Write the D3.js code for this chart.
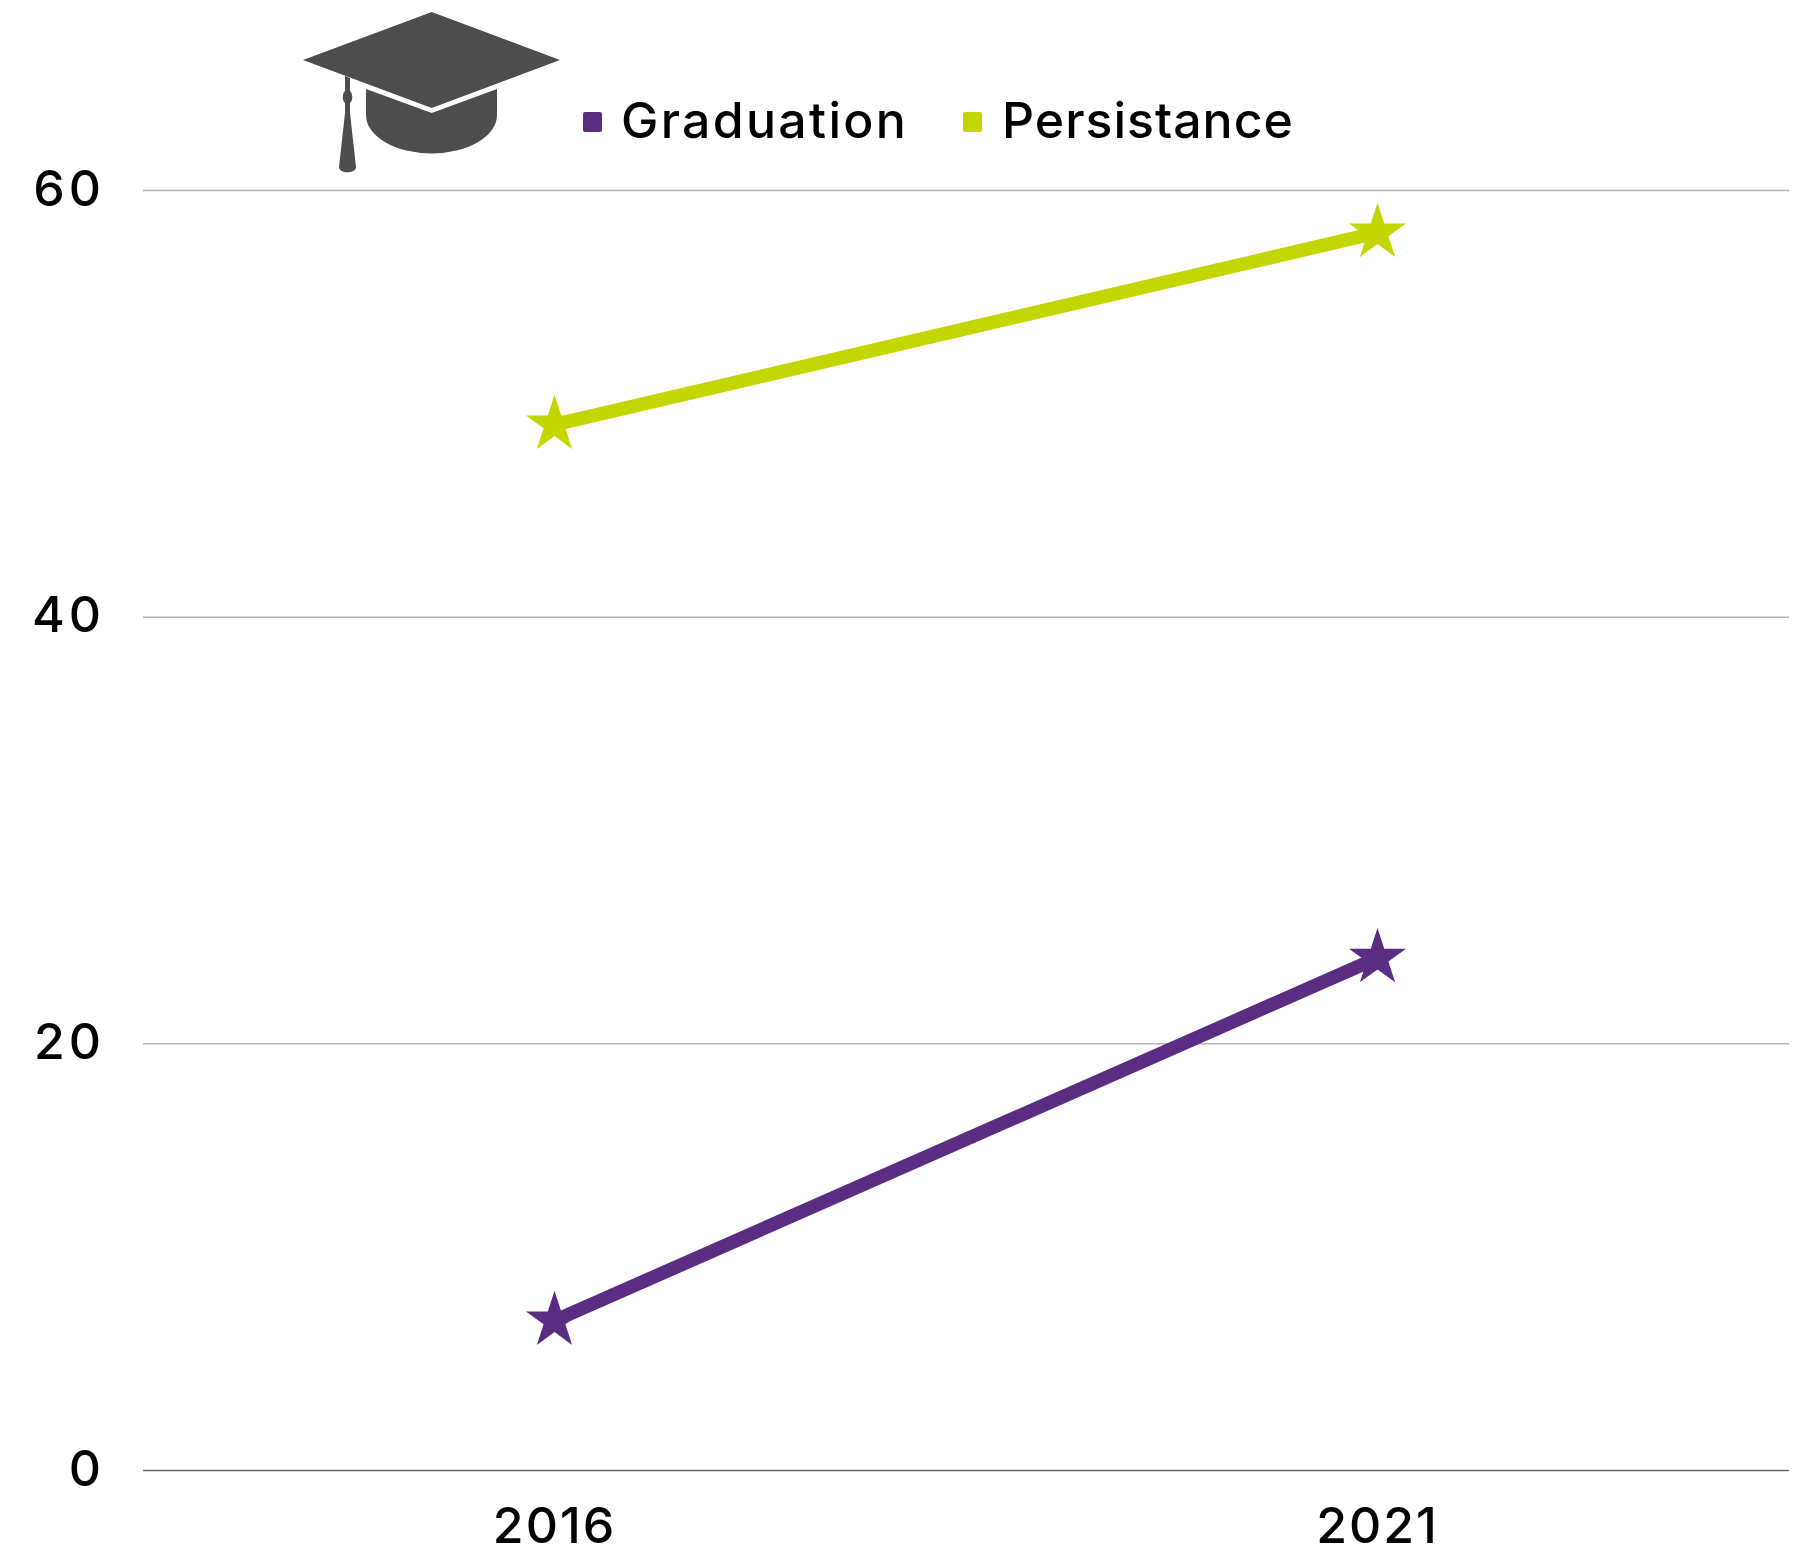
<!DOCTYPE html>
<html>
<head>
<meta charset="utf-8">
<script src="https://cdn.jsdelivr.net/npm/d3@7"></script>
<style>
  html, body { margin: 0; padding: 0; background: #fff; }
  svg { display: block; }
  text { font-family: Inter, "Noto Sans", sans-serif; fill: #000; font-weight: 500; }
</style>
</head>
<body>
<svg id="chart" width="1806" height="1546"></svg>
<script>
const years = ["2016", "2021"];
const graduation = [7, 24];
const persistance = [49, 58];
const yTicks = [0, 20, 40, 60];
const seriesNames = ["Graduation", "Persistance"];
const seriesColors = ["#5b2d82", "#c4d600"];

const svg = d3.select("#chart");
const plotLeft = 143, plotRight = 1789, plotTop = 190, plotBottom = 1470;

const x = d3.scaleBand().domain(years).range([plotLeft, plotRight]);
const y = d3.scaleLinear().domain([0, 60]).range([plotBottom, plotTop]);

// Horizontal gridlines and value labels
const yAxis = svg.append("g")
  .attr("transform", `translate(${plotLeft},0)`)
  .call(d3.axisLeft(y).tickValues(yTicks).tickSize(-(plotRight - plotLeft)).tickPadding(38));
yAxis.select(".domain").remove();
yAxis.selectAll(".tick line")
  .attr("stroke", d => d === 0 ? "#666666" : "#b5b5b5")
  .attr("stroke-width", 1.5);
yAxis.selectAll(".tick text")
  .attr("font-size", 50)
  .attr("dy", "0.3em")
  .attr("letter-spacing", 4)
  .style("font-family", "Inter, sans-serif");

// Category labels
const xAxis = svg.append("g")
  .attr("transform", `translate(0,${plotBottom})`)
  .call(d3.axisBottom(x).tickSize(0).tickPadding(37));
xAxis.select(".domain").remove();
xAxis.selectAll(".tick text")
  .attr("font-size", 50)
  .attr("letter-spacing", 2)
  .style("font-family", "Inter, sans-serif");

// Series lines with star markers
const line = d3.line()
  .x((d, i) => x(years[i]) + x.bandwidth() / 2)
  .y(d => y(d));
const star = d3.symbol(d3.symbolStar, 1010);

[graduation, persistance].forEach((values, s) => {
  svg.append("path")
    .attr("d", line(values))
    .attr("fill", "none")
    .attr("stroke", seriesColors[s])
    .attr("stroke-width", 13.5);
  svg.selectAll(null)
    .data(values)
    .join("path")
    .attr("d", star)
    .attr("fill", seriesColors[s])
    .attr("transform", (d, i) => `translate(${x(years[i]) + x.bandwidth() / 2},${y(d)})`);
});

// Legend
const legendSwatchX = [583, 963];
const legendTextX = [621, 1002];
const legendSpacing = [2.3, 1];
seriesNames.forEach((name, i) => {
  svg.append("rect")
    .attr("x", legendSwatchX[i]).attr("y", 112)
    .attr("width", 19).attr("height", 20)
    .attr("rx", 2)
    .attr("fill", seriesColors[i]);
  svg.append("text")
    .attr("x", legendTextX[i]).attr("y", 138)
    .attr("font-size", 50)
    .attr("letter-spacing", legendSpacing[i])
    .text(name);
});

// Graduation cap icon
const cap = svg.append("g").attr("fill", "#4d4d4d");
cap.append("path").attr("d", "M431.7,12 L560,60 L431.7,108 L303,60 Z");
cap.append("path").attr("d", "M366,89 L431.7,113 L497,89 L497,115 A65.5,38.5 0 0 1 366,115 Z");
cap.append("path").attr("d", "M345,76 L350,78 L350,91 C353,93 353,101 350,103 L350,113 L356,167 C356,174 339,174 339,167 L345,113 L345,103 C342,101 342,93 345,91 Z");
</script>
</body>
</html>
